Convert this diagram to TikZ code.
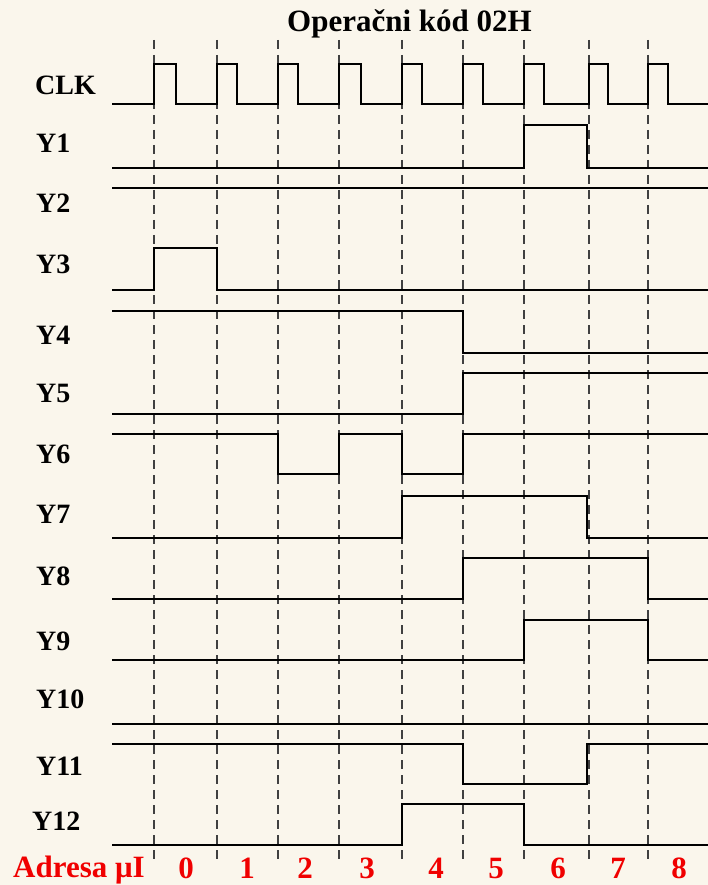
\documentclass[tikz,border=0pt]{standalone}
\usepackage{fontspec}
\setmainfont{Liberation Serif}
\definecolor{bgbeige}{RGB}{250,246,236}
\definecolor{addrred}{RGB}{240,0,0}
\begin{document}
\begin{tikzpicture}[x=1pt,y=-1pt,
  lbl/.style={anchor=base west,inner sep=0pt,font=\fontsize{28}{30}\selectfont\bfseries},
  titlestyle/.style={anchor=base west,inner sep=0pt,font=\fontsize{31}{32}\selectfont\bfseries},
  adrlbl/.style={anchor=base west,inner sep=0pt,text=addrred,font=\fontsize{31}{32}\selectfont\bfseries},
  addr/.style={anchor=base,inner sep=0pt,text=addrred,font=\fontsize{31}{32}\selectfont\bfseries},
  wave/.style={line width=2.7pt,line join=miter,black},
  grid/.style={line width=1.1pt,dash pattern=on 9pt off 6pt,black!75}]
\fill[bgbeige] (0,0) rectangle (708,885);
\useasboundingbox (0,0) rectangle (708,885);
% dashed time lines
\foreach \x in {154,217,278,339,402,463,524,589,648}
  \draw[grid] (\x,40) -- (\x,864);
% title
\node[titlestyle] (title) at (287,32) {Operačni kód 02H};
% signal labels
\node[lbl] (lclk) at (35,95) {CLK};
\node[lbl] (ly1) at (36,153) {Y1};
\node[lbl] (ly2) at (36,213) {Y2};
\node[lbl] (ly3) at (36,273) {Y3};
\node[lbl] (ly4) at (36,344) {Y4};
\node[lbl] (ly5) at (36,402) {Y5};
\node[lbl] (ly6) at (36,463) {Y6};
\node[lbl] (ly7) at (36,523) {Y7};
\node[lbl] (ly8) at (36,585) {Y8};
\node[lbl] (ly9) at (36,650) {Y9};
\node[lbl] (ly10) at (36,708) {Y10};
\node[lbl] (ly11) at (36,775) {Y11};
\node[lbl] (ly12) at (32,830) {Y12};
% waveforms
\draw[wave] (112,104) -- (154,104) -- (154,64) -- (176,64) -- (176,104)
  -- (217,104) -- (217,64) -- (237,64) -- (237,104)
  -- (278,104) -- (278,64) -- (298,64) -- (298,104)
  -- (339,104) -- (339,64) -- (361,64) -- (361,104)
  -- (402,104) -- (402,64) -- (422,64) -- (422,104)
  -- (463,104) -- (463,64) -- (483,64) -- (483,104)
  -- (524,104) -- (524,64) -- (544,64) -- (544,104)
  -- (589,104) -- (589,64) -- (608,64) -- (608,104)
  -- (648,104) -- (648,64) -- (668,64) -- (668,104) -- (708,104);
\draw[wave] (112,168) -- (524,168) -- (524,125) -- (587,125) -- (587,168) -- (708,168);
\draw[wave] (112,188) -- (708,188);
\draw[wave] (112,290) -- (154,290) -- (154,248) -- (217,248) -- (217,290) -- (708,290);
\draw[wave] (112,311) -- (463,311) -- (463,353) -- (708,353);
\draw[wave] (112,414) -- (463,414) -- (463,373) -- (708,373);
\draw[wave] (112,434) -- (278,434) -- (278,474) -- (339,474) -- (339,434)
  -- (402,434) -- (402,474) -- (463,474) -- (463,434) -- (708,434);
\draw[wave] (112,538) -- (402,538) -- (402,496) -- (587,496) -- (587,538) -- (708,538);
\draw[wave] (112,599) -- (463,599) -- (463,558) -- (648,558) -- (648,599) -- (708,599);
\draw[wave] (112,660) -- (524,660) -- (524,620) -- (648,620) -- (648,660) -- (708,660);
\draw[wave] (112,724) -- (708,724);
\draw[wave] (112,744) -- (463,744) -- (463,784) -- (587,784) -- (587,744) -- (708,744);
\draw[wave] (112,845) -- (402,845) -- (402,804) -- (524,804) -- (524,845) -- (708,845);
% address row
\node[adrlbl] (adr) at (13,877) {Adresa μI};
\foreach \n/\x in {0/186,1/247,2/305,3/367,4/436,5/496,6/558,7/618,8/679}
  \node[addr] (a\n) at (\x,878) {\n};
\end{tikzpicture}
\end{document}
